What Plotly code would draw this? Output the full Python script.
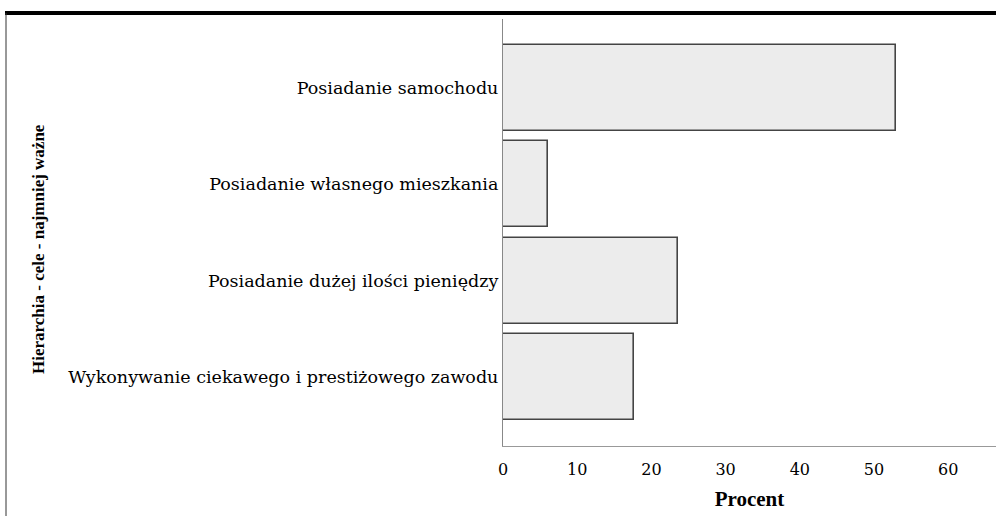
import plotly.graph_objects as go

categories = [
    "Posiadanie samochodu",
    "Posiadanie własnego mieszkania",
    "Posiadanie dużej ilości pieniędzy",
    "Wykonywanie ciekawego i prestiżowego zawodu",
]
values = [52.9, 6.0, 23.6, 17.6]
x_ticks = [0, 10, 20, 30, 40, 50, 60]
x_title = "Procent"
y_title = "Hierarchia - cele - najmniej ważne"

W, H = 996, 516
L, R, T, B = 503, 0, 19, 70
pw, ph = W - L - R, H - T - B

def px_x(p):
    return (p - L) / pw

def px_y(p):
    return (H - B - p) / ph

fig = go.Figure(go.Bar(
    x=values, y=categories, orientation="h",
    width=0.893,
    marker=dict(color="#ececec", line=dict(color="#444444", width=1.6)),
    hoverinfo="x+y",
))

fig.update_layout(
    width=W, height=H,
    margin=dict(l=L, r=R, t=T, b=B, pad=0),
    paper_bgcolor="white", plot_bgcolor="white",
    showlegend=False,
    bargap=0,
    xaxis=dict(
        range=[0, 66.44], tickvals=x_ticks, ticktext=[str(v) for v in x_ticks],
        showgrid=False, zeroline=False, showline=True, linecolor="#999999", linewidth=1.2,
        ticks="", ticklabelstandoff=9,
        tickfont=dict(family="DejaVu Serif", size=16, color="black"),
        title=dict(text=x_title, standoff=13,
                   font=dict(family="Liberation Serif", size=21, color="black", weight="bold")),
    ),
    yaxis=dict(
        type="category", categoryorder="array", categoryarray=categories,
        range=[3.718, -0.718],
        showgrid=False, zeroline=False, showline=True, linecolor="#888888", linewidth=1.2,
        ticks="", ticklabelstandoff=0,
        tickfont=dict(family="DejaVu Serif", size=17.5, color="black"),
    ),
    annotations=[dict(
        text=y_title, textangle=-90, showarrow=False,
        xref="paper", yref="paper", x=px_x(39), y=px_y(249),
        xanchor="center", yanchor="middle",
        font=dict(family="Liberation Serif", size=17, color="black", weight="bold"),
    )],
    shapes=[
        dict(type="line", xref="paper", yref="paper",
             x0=px_x(5), x1=1.0, y0=px_y(13), y1=px_y(13),
             line=dict(color="black", width=4)),
        dict(type="line", xref="paper", yref="paper",
             x0=px_x(6), x1=px_x(6), y0=px_y(13), y1=px_y(516),
             line=dict(color="#333333", width=1)),
    ],
)

fig.write_html(
    "out.html",
    config={"displayModeBar": False},
    post_script="document.body.style.margin='0';document.body.style.overflow='hidden';",
)
